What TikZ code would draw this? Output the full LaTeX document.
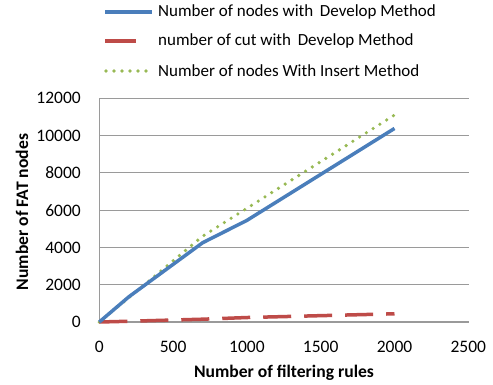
\documentclass[tikz,border=0pt]{standalone}
\usepackage{fontspec}
\setmainfont{Carlito}
\definecolor{sblue}{HTML}{4A7EBB}
\definecolor{sred}{HTML}{BE4B48}
\definecolor{sgreen}{HTML}{98B954}
\definecolor{gridc}{HTML}{9A9A9A}
\begin{document}
\begin{tikzpicture}[x=1pt,y=-1pt,
  ticklab/.style={font=\fontsize{17.5}{20}\selectfont, inner sep=0pt},
  leglab/.style={font=\fontsize{17}{20}\selectfont, inner sep=0pt, anchor=west},
  axtitle/.style={font=\bfseries\fontsize{17.6}{20}\selectfont, inner sep=0pt},
  gridline/.style={draw=gridc, line width=1.2pt},
  blueser/.style={draw=sblue, line width=3.5pt, line join=round},
  redser/.style={draw=sred, line width=3.5pt, dash pattern=on 28pt off 13pt},
  greenser/.style={draw=sgreen, line width=3.6pt, line cap=round, dash pattern=on 0pt off 8pt}]
\useasboundingbox (0,0) rectangle (493,385);
% gridlines
\foreach \k in {1,...,6}{
  \draw[gridline] (99.3,{322-\k*37.28}) -- (469,{322-\k*37.28});
}
\draw[gridline] (99.3,322) -- (469,322);
\draw[gridline] (99.3,98.3) -- (99.3,322);
% tick labels
\foreach \v [count=\k from 0] in {0,2000,4000,6000,8000,10000,12000}{
  \node[ticklab, anchor=east] (yl\k) at (81,{322-\k*37.28}) {\v};
}
\foreach \v [count=\k from 0] in {0,500,1000,1500,2000,2500}{
  \node[ticklab] (xl\k) at ({99.3+\k*73.8},347) {\v};
}
\node[axtitle] (xt) at (284,373) {Number of filtering rules};
\node[axtitle, rotate=90] (yt) at (22,212) {Number of FAT nodes};
% series
\begin{scope}[shift={(99.3pt,-322pt)}, x=0.1476pt, y=0.018642pt]
\draw[greenser] (0,0) -- (200,1300) -- (700,4600) -- (1000,6100) -- (2000,11100);
\draw[redser] (0,0) -- (200,40) -- (700,150) -- (1000,240) -- (2000,440);
\draw[blueser] (0,0) -- (200,1350) -- (700,4250) -- (1000,5450) -- (2000,10380);
\end{scope}
% legend
\draw[blueser] (105,12) -- (152,12);
\node[leglab] (l1) at (158,12) {Number of nodes with\, Develop Method};
\draw[draw=sred, line width=3.5pt] (105,41) -- (136,41);
\node[leglab] (l2) at (158,41) {number of cut with\, Develop Method};
\draw[greenser] (106,71) -- (148,71);
\node[leglab] (l3) at (158,71) {Number of nodes With Insert Method};
\end{tikzpicture}
\end{document}
